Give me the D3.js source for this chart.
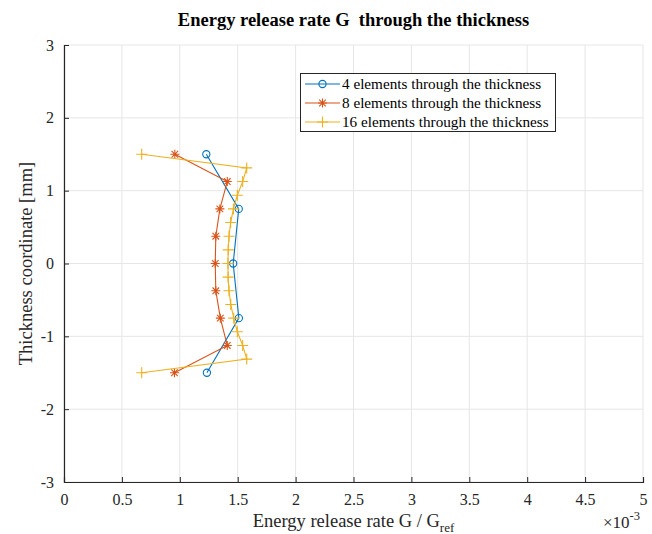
<!DOCTYPE html>
<html>
<head>
<meta charset="utf-8">
<script src="https://cdn.jsdelivr.net/npm/d3@7"></script>
<style>
body { margin: 0; background: #fff; }
text { font-family: "Liberation Serif", "Times New Roman", serif; white-space: pre; }
</style>
</head>
<body>
<svg id="chart" width="652" height="534"></svg>
<script>
// values in units of 1e-3
var y4 = [1.5, 0.75, 0, -0.75, -1.5];
var g4 = [1.229, 1.509, 1.461, 1.510, 1.234];

var y8 = [1.5, 1.125, 0.75, 0.375, 0, -0.375, -0.75, -1.125, -1.5];
var g8 = [0.957, 1.410, 1.346, 1.311, 1.306, 1.311, 1.350, 1.410, 0.954];

var y16 = [1.5, 1.3125, 1.125, 0.9375, 0.75, 0.5625, 0.375, 0.1875, 0,
    -0.1875, -0.375, -0.5625, -0.75, -0.9375, -1.125, -1.3125, -1.5];
var g16 = [0.671, 1.578, 1.543, 1.497, 1.463, 1.439, 1.425, 1.418, 1.416,
    1.417, 1.425, 1.440, 1.466, 1.497, 1.543, 1.578, 0.671];

var xTicks = [0, 0.5, 1, 1.5, 2, 2.5, 3, 3.5, 4, 4.5, 5];
var yTicks = [-3, -2, -1, 0, 1, 2, 3];
var seriesNames = ["4 elements through the thickness",
    "8 elements through the thickness",
    "16 elements through the thickness"];
var colors = ["#0072BD", "#D95319", "#EDB120"];

function drawChart() {
    var svg = d3.select("#chart");
    var pLeft = 64, pRight = 643, pTop = 45, pBottom = 482;

    var x = d3.scaleLinear().domain([0, 5]).range([pLeft, pRight]);
    var y = d3.scaleLinear().domain([-3, 3]).range([pBottom, pTop]);

    // grid
    svg.append("g").selectAll("line").data(xTicks).enter().append("line")
        .attr("x1", function (d) { return x(d); }).attr("x2", function (d) { return x(d); })
        .attr("y1", pTop).attr("y2", pBottom)
        .attr("stroke", "#e6e6e6").attr("stroke-width", 1);
    svg.append("g").selectAll("line").data(yTicks).enter().append("line")
        .attr("y1", function (d) { return y(d); }).attr("y2", function (d) { return y(d); })
        .attr("x1", pLeft).attr("x2", pRight)
        .attr("stroke", "#e6e6e6").attr("stroke-width", 1);

    // axes, ticks inward
    var xAxis = svg.append("g").attr("transform", "translate(0," + pBottom + ")")
        .call(d3.axisBottom(x).tickValues(xTicks).tickSize(-5).tickPadding(12)
            .tickFormat(function (d) { return d; }));
    var yAxis = svg.append("g").attr("transform", "translate(" + pLeft + ",0)")
        .call(d3.axisLeft(y).tickValues(yTicks).tickSize(-5).tickPadding(10)
            .tickFormat(function (d) { return d; }));
    [xAxis, yAxis].forEach(function (a) {
        a.select(".domain").attr("stroke", "#262626").attr("stroke-width", 1.2);
        a.selectAll(".tick line").attr("stroke", "#262626");
        a.selectAll("text").attr("font-size", 16).attr("fill", "#262626")
            .style("font-family", "Liberation Serif");
    });

    var line = d3.line()
        .x(function (d) { return x(d[0]); })
        .y(function (d) { return y(d[1]); });

    var series = [
        {g: g4, t: y4, marker: "circle"},
        {g: g8, t: y8, marker: "star"},
        {g: g16, t: y16, marker: "plus"}
    ];

    function drawMarker(sel, type, color) {
        if (type == "circle") {
            sel.append("circle").attr("r", 3.6).attr("fill", "none")
                .attr("stroke", color).attr("stroke-width", 1.1);
        } else if (type == "star") {
            var s = 4.5, d = 3.3;
            sel.append("path")
                .attr("d", "M" + (-s) + ",0H" + s + "M0," + (-s) + "V" + s +
                    "M" + (-d) + "," + (-d) + "L" + d + "," + d +
                    "M" + (-d) + "," + d + "L" + d + "," + (-d))
                .attr("stroke", color).attr("stroke-width", 1.1).attr("fill", "none");
        } else {
            var p = 5.5;
            sel.append("path")
                .attr("d", "M" + (-p) + ",0H" + p + "M0," + (-p) + "V" + p)
                .attr("stroke", color).attr("stroke-width", 1.1).attr("fill", "none");
        }
    }

    series.forEach(function (s, i) {
        var pts = s.g.map(function (v, j) { return [v, s.t[j]]; });
        svg.append("path").datum(pts).attr("d", line)
            .attr("fill", "none").attr("stroke", colors[i]).attr("stroke-width", 1.1);
        svg.append("g").selectAll("g").data(pts).enter().append("g")
            .attr("transform", function (d) { return "translate(" + x(d[0]) + "," + y(d[1]) + ")"; })
            .each(function () { drawMarker(d3.select(this), s.marker, colors[i]); });
    });

    // legend
    var lg = svg.append("g");
    lg.append("rect").attr("x", 300.5).attr("y", 73.5).attr("width", 255).attr("height", 58)
        .attr("fill", "#fff").attr("stroke", "#262626").attr("stroke-width", 1);
    seriesNames.forEach(function (name, i) {
        var ly = 84 + i * 19;
        lg.append("line").attr("x1", 305).attr("x2", 340).attr("y1", ly).attr("y2", ly)
            .attr("stroke", colors[i]).attr("stroke-width", 1.1);
        var m = lg.append("g").attr("transform", "translate(322.5," + ly + ")");
        drawMarker(m, series[i].marker, colors[i]);
        lg.append("text").attr("x", 342).attr("y", ly + 5).attr("font-size", 15.2)
            .attr("fill", "#000").text(name);
    });

    // title and labels
    svg.append("text").attr("x", (pLeft + pRight) / 2).attr("y", 26)
        .attr("text-anchor", "middle").attr("font-size", 18.5).attr("font-weight", "bold")
        .text("Energy release rate G  through the thickness");

    var xl = svg.append("text").attr("x", (pLeft + pRight) / 2).attr("y", 527)
        .attr("text-anchor", "middle").attr("font-size", 18.5).attr("fill", "#262626");
    xl.append("tspan").text("Energy release rate G / G");
    xl.append("tspan").attr("dy", 5).attr("font-size", 13).text("ref");

    svg.append("text").attr("transform", "translate(32," + ((pTop + pBottom) / 2) + ") rotate(-90)")
        .attr("text-anchor", "middle").attr("font-size", 18.5).attr("fill", "#262626")
        .text("Thickness coordinate [mm]");

    var ex = svg.append("text").attr("x", 603).attr("y", 528).attr("font-size", 17).attr("fill", "#262626");
    ex.append("tspan").text("\u00d710");
    ex.append("tspan").attr("dy", -8).attr("font-size", 12.5).text("-3");
}

drawChart();
</script>
</body>
</html>
